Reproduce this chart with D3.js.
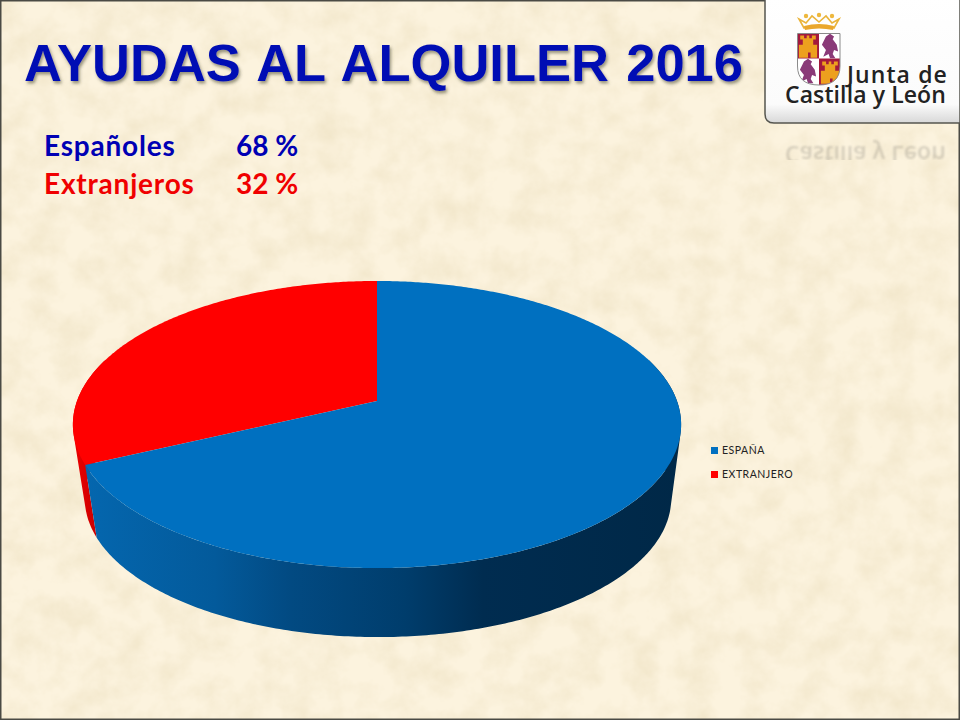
<!DOCTYPE html>
<html><head><meta charset="utf-8">
<script src="https://cdn.jsdelivr.net/npm/d3@7"></script>
<style>html,body{margin:0;padding:0;background:#f8efd9;overflow:hidden}svg{display:block}</style>
</head><body><svg id="c" width="960" height="720"></svg>
<script>
const titleText = "AYUDAS AL ALQUILER 2016";
const summaryLabels = ["Españoles", "Extranjeros"];
const summaryValues = ["68 %", "32 %"];
const categories = ["ESPAÑA", "EXTRANJERO"];
const values = [68, 32];
const colors = ["#0070c0", "#ff0000"];
const logoLines = ["Junta de", "Castilla y León"];

const svg = d3.select("#c");
const defs = svg.append("defs");

// parchment texture
const tex = defs.append("filter").attr("id","tex").attr("x",0).attr("y",0).attr("width","100%").attr("height","100%");
tex.append("feTurbulence").attr("type","fractalNoise").attr("baseFrequency",0.035).attr("numOctaves",5).attr("seed",11);
tex.append("feColorMatrix").attr("type","matrix").attr("values","0 0 0 0 0.89  0 0 0 0 0.80  0 0 0 0 0.60  1.7 0 0 0 -0.58");
const blur = defs.append("filter").attr("id","blur1").append("feGaussianBlur").attr("stdDeviation",0.9);
const shadow = defs.append("filter").attr("id","ts").attr("x","-5%").attr("y","-20%").attr("width","110%").attr("height","150%");
shadow.append("feDropShadow").attr("dx",1.5).attr("dy",2.5).attr("stdDeviation",1.6).attr("flood-color","#4a4a30").attr("flood-opacity",0.55);

svg.append("rect").attr("width",960).attr("height",720).attr("fill","#fcf3de");
svg.append("rect").attr("width",960).attr("height",720).attr("filter","url(#tex)");
svg.append("rect").attr("x",0.75).attr("y",0.75).attr("width",958.5).attr("height",718.5).attr("fill","none").attr("stroke","#4a4a44").attr("stroke-width",1.5);

// pie: projected disc
const cx = 377, y0Top = 401, k = 0.164, a = 300, b = 139.7;
const yScale = 0.964, y0Bot = 476, botDx = 1;
const proj = (t, s, y0, dx) => {
  const u = Math.sin(t), v = -Math.cos(t), w = 1 - k * v;
  return [cx + dx + s * a * u / w, y0 + s * b * v / w];
};
const topPt = t => proj(t, 1, y0Top, 0), botPt = t => proj(t, yScale, y0Bot, botDx);
const arcs = d3.pie().sort(null)(values);
const grad = defs.append("linearGradient").attr("id","wall").attr("gradientUnits","userSpaceOnUse").attr("x1",73).attr("x2",681).attr("y1",0).attr("y2",0);
[["0","#0568b0"],["0.044","#0465ac"],["0.233","#035a9b"],["0.358","#024a82"],["0.547","#003d6c"],["0.674","#002c50"],["1","#002847"]].forEach(d=>grad.append("stop").attr("offset",d[0]).attr("stop-color",d[1]));
const gradR = defs.append("linearGradient").attr("id","wallR").attr("gradientUnits","userSpaceOnUse").attr("x1",73).attr("x2",95).attr("y1",0).attr("y2",0);
[["0","#ee0000"],["1","#cc0000"]].forEach(d=>gradR.append("stop").attr("offset",d[0]).attr("stop-color",d[1]));
const wallFill = ["url(#wall)", "url(#wallR)"];

const line = d3.line();
const gWall = svg.append("g");
[1, 0].forEach(i => {
  const d = arcs[i];
  const ts = d3.range(d.startAngle, d.endAngle, 0.012).concat([d.endAngle]);
  let path = "";
  ts.slice(1).forEach((t, j) => {
    const t0 = ts[j];
    if (Math.cos(t0) > 0.3 && Math.cos(t) > 0.3) return;
    let q = [topPt(t0), topPt(t), botPt(t), botPt(t0)];
    if (d3.polygonArea(q) < 0) q = q.reverse();
    path += line(q) + "Z";
  });
  gWall.append("path").attr("d", path).attr("fill", wallFill[i]).attr("fill-rule","nonzero");
});
const gTop = svg.append("g");
[1, 0].forEach(i => {
  const d = arcs[i];
  const ts = d3.range(d.startAngle, d.endAngle, 0.01).concat([d.endAngle]);
  gTop.append("path").attr("d", line([[cx, y0Top], ...ts.map(topPt)]) + "Z").attr("fill", colors[i]);
});

// legend
const leg = svg.append("g").selectAll("g").data(categories).join("g")
  .attr("transform",(d,i)=>`translate(711,${447 + i*24})`);
leg.append("rect").attr("width",7).attr("height",7).attr("fill",(d,i)=>colors[i]);
leg.append("text").attr("x",11).attr("y",7).text(d=>d)
  .attr("font-family","Lato, 'Open Sans'").attr("font-size",10.5).attr("letter-spacing",0.5).attr("fill","#222");

// title
svg.append("text").attr("x",24).attr("y",81).text(titleText)
  .attr("font-family","'Liberation Sans'").attr("font-weight",700).attr("font-size",52.5)
  .attr("word-spacing",2.7).attr("fill","#000fb4").attr("filter","url(#ts)");

// summary
const sumColors = ["#0000b4","#f00000"];
const sum = svg.append("g").selectAll("g").data(summaryLabels).join("g")
  .attr("transform",(d,i)=>`translate(0,${156 + i*38})`)
  .attr("font-family","Lato").attr("font-weight",700).attr("font-size",28).attr("fill",(d,i)=>sumColors[i]);
sum.append("text").attr("x",44).attr("letter-spacing",0.8).text(d=>d);
sum.append("text").attr("x",236).text((d,i)=>summaryValues[i]);

// logo
const lg = defs.append("linearGradient").attr("id","lg").attr("x1",0).attr("x2",0).attr("y1",0).attr("y2",1);
[["0","#ffffff"],["0.85","#fbfbfb"],["1","#d8d8d8"]].forEach(d=>lg.append("stop").attr("offset",d[0]).attr("stop-color",d[1]));
svg.append("path").attr("d","M765,-2V114Q765,123 774,123H960V-2Z").attr("fill","url(#lg)").attr("stroke","#55554f").attr("stroke-width",1.5);

defs.append("clipPath").attr("id","refl").append("rect").attr("x",770).attr("y",126).attr("width",190).attr("height",34);
svg.append("g").attr("clip-path","url(#refl)")
  .append("g").attr("opacity",0.17).attr("filter","url(#blur1)")
  .attr("transform","translate(0,249) scale(1,-1)")
  .append("text").attr("x",785).attr("y",103).text(logoLines[1])
  .attr("font-family","'Open Sans'").attr("font-weight",600).attr("font-size",23).attr("letter-spacing",0.1).attr("fill","#222");

const logoT = svg.append("text").attr("font-family","'Open Sans'").attr("font-weight",600).attr("font-size",23).attr("fill","#222");
logoT.append("tspan").attr("x",847).attr("y",83).attr("letter-spacing",1.1).text(logoLines[0]);
logoT.append("tspan").attr("x",785).attr("y",103).attr("letter-spacing",0.1).text(logoLines[1]);

// coat of arms
const shieldPath = "M797.5,33.5H840V66Q840,85 819,85Q797.5,85 797.5,66Z";
defs.append("clipPath").attr("id","sh").append("path").attr("d",shieldPath);
const sg = svg.append("g").attr("clip-path","url(#sh)");
const quarters = [[797.5,33.5,"#a3193d"],[819,33.5,"#ffffff"],[797.5,58.5,"#ffffff"],[819,58.5,"#a3193d"]];
sg.selectAll("rect").data(quarters).join("rect").attr("x",d=>d[0]).attr("y",d=>d[1]).attr("width",21.5).attr("height",26.5).attr("fill",d=>d[2]);
const castle = "m-7,9v-10h3v-4h-2v-3h3v2h2v-2h2v2h2v-2h3v3h-2v4h3v10h-5v-4h-2v4z";
sg.selectAll(".ca").data([[808,46],[830,72]]).join("path").attr("transform",d=>`translate(${d[0]},${d[1]}) scale(1.3)`).attr("d",`M0,0${castle}`).attr("fill","#eda01e");
const lion = "m-5,8l2,-5l-3,-4l3,-6l3,-2l3,2l-1,2l3,4l1,5l-3,-1l-1,3l2,3h-4l-1,-3z";
sg.selectAll(".li").data([[830,46],[808,71]]).join("path").attr("transform",d=>`translate(${d[0]},${d[1]}) scale(1.35)`).attr("d",`M0,0${lion}`).attr("fill","#8a3a78");
svg.append("path").attr("d",shieldPath).attr("fill","none").attr("stroke","#8a8a8a").attr("stroke-width",1);
// crown
svg.append("path").attr("d","M799,19L804,28Q819,23 834,28L839,19L832,23L826,16L819,22L812,16L806,23Z").attr("fill","none").attr("stroke","#eab43a").attr("stroke-width",1.6);
svg.append("path").attr("d","M804,26Q819,22 834,26L833,30Q819,27 805,30Z").attr("fill","#eaa72c");
svg.append("g").selectAll("circle").data([[806,16],[819,15],[832,16]]).join("circle").attr("cx",d=>d[0]).attr("cy",d=>d[1]).attr("r",2.2).attr("fill","#eeb83e");
</script></body></html>
